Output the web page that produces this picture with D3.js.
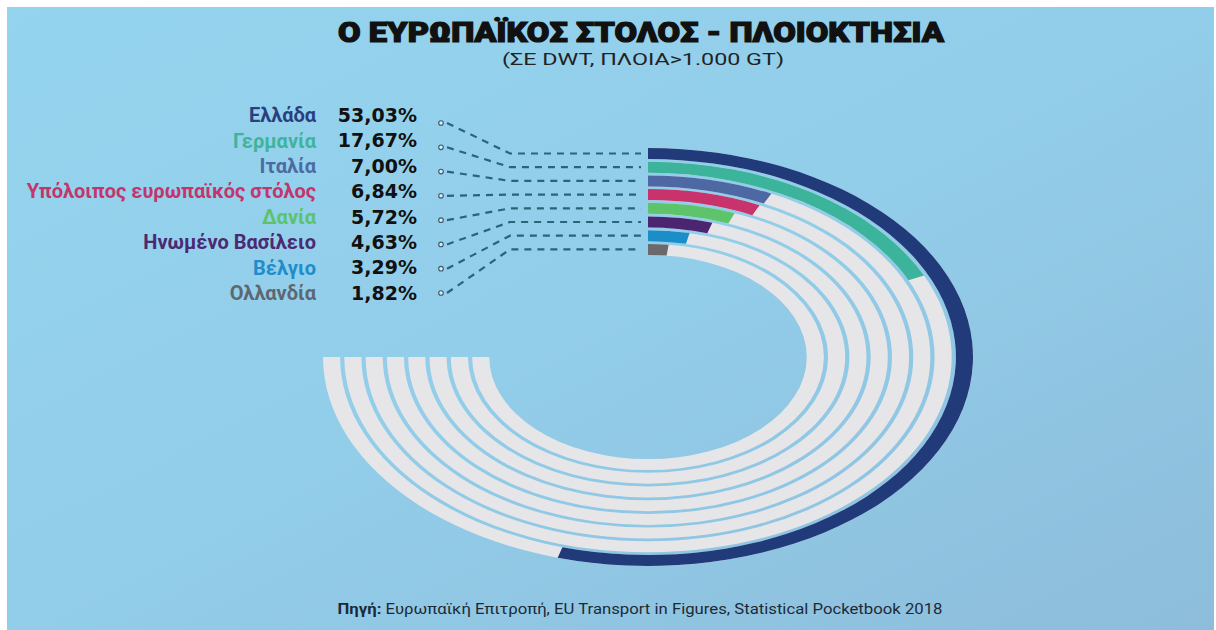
<!DOCTYPE html>
<html><head><meta charset="utf-8">
<script src="https://cdn.jsdelivr.net/npm/d3@7"></script>
<style>html,body{margin:0;padding:0;background:#fff;}svg{display:block;}</style>
</head><body>
<svg id="c" width="1216" height="630"></svg>
<script>
const categories = ["Ελλάδα","Γερμανία","Ιταλία","Υπόλοιπος ευρωπαϊκός στόλος","Δανία","Ηνωμένο Βασίλειο","Βέλγιο","Ολλανδία"];
const values = [53.03,17.67,7.00,6.84,5.72,4.63,3.29,1.82];
const valueLabels = ["53,03%","17,67%","7,00%","6,84%","5,72%","4,63%","3,29%","1,82%"];
const colors = ["#213a7a","#3cb39b","#4d68a3","#c8336b","#5ec46c","#4b2570","#1b8dc9","#6a6a6c"];
const labelColors = ["#2a3f7e","#3fb49c","#4d6aa2","#c4356b","#5cc36b","#4a2a72","#1f8ccb","#5d6770"];
const title = "Ο ΕΥΡΩΠΑΪΚΟΣ ΣΤΟΛΟΣ - ΠΛΟΙΟΚΤΗΣΙΑ";
const subtitle = "(ΣΕ DWT, ΠΛΟΙΑ>1.000 GT)";
const sourceBold = "Πηγή:";
const sourceText = " Ευρωπαϊκή Επιτροπή, EU Transport in Figures, Statistical Pocketbook 2018";

const svg = d3.select("#c");
const defs = svg.append("defs");
const g0 = defs.append("linearGradient").attr("id","bg").attr("x1","0").attr("y1","0").attr("x2","1").attr("y2","1");
g0.append("stop").attr("offset","0").attr("stop-color","#95d4ee");
g0.append("stop").attr("offset","0.5").attr("stop-color","#92cde9");
g0.append("stop").attr("offset","1").attr("stop-color","#8dbddb");
svg.append("rect").attr("x",7).attr("y",7).attr("width",1207).attr("height",623).attr("fill","url(#bg)");

// Title
svg.append("text").attr("x",641).attr("y",42).attr("text-anchor","middle")
  .attr("font-family","Roboto").attr("font-weight",900).attr("font-size",28)
  .attr("fill","#111").attr("stroke","#111").attr("stroke-width",1.2)
  .attr("textLength",606).attr("lengthAdjust","spacingAndGlyphs").text(title);
svg.append("text").attr("x",643).attr("y",65).attr("text-anchor","middle")
  .attr("font-family","Roboto").attr("font-weight",400).attr("font-size",16)
  .attr("fill","#222").attr("textLength",282).attr("lengthAdjust","spacingAndGlyphs").text(subtitle);

// Rings
const cx = 648, cy = 357, sx = 1.555;
const angle = d3.scaleLinear().domain([0,73]).range([0, 1.5*Math.PI]);
const radius = d3.scaleBand().domain(categories).range([209, 102.1]).paddingInner(0.197).paddingOuter(0);
const arc = d3.arc();
const rings = svg.append("g").attr("transform",`translate(${cx},${cy}) scale(${sx},1)`);
rings.selectAll("path.track").data(categories).join("path").attr("class","track")
  .attr("d", c => arc({innerRadius: radius(c), outerRadius: radius(c)+radius.bandwidth(), startAngle: 0, endAngle: angle(73)}))
  .attr("fill","#e6e6e8");
rings.selectAll("path.bar").data(categories).join("path").attr("class","bar")
  .attr("d", (c,i) => arc({innerRadius: radius(c), outerRadius: radius(c)+radius.bandwidth(), startAngle: 0, endAngle: angle(values[i])}))
  .attr("fill",(c,i)=>colors[i]);

// Labels
const rowY = d3.scalePoint().domain(categories).range([115, 293]);
const dotY = d3.scalePoint().domain(categories).range([123, 293]);
svg.selectAll("text.name").data(categories).join("text").attr("class","name")
  .attr("x",316).attr("y",c=>rowY(c)).attr("dy","0.36em").attr("text-anchor","end")
  .attr("font-family","Roboto").attr("font-weight",700).attr("font-size",20)
  .attr("fill",(c,i)=>labelColors[i]).text(c=>c);
svg.selectAll("text.val").data(categories).join("text").attr("class","val")
  .attr("x",417).attr("y",c=>rowY(c)).attr("dy","0.36em").attr("text-anchor","end")
  .attr("font-family","DejaVu Sans").attr("font-weight",700).attr("font-size",19)
  .attr("fill","#111").text((c,i)=>valueLabels[i]);

// Leaders
const line = d3.line();
svg.selectAll("path.lead").data(categories).join("path").attr("class","lead")
  .attr("d", c => { const y = cy - (radius(c)+radius.bandwidth()/2); return line([[447,dotY(c)],[510,y],[641,y]]); })
  .attr("fill","none").attr("stroke","#2b6479").attr("stroke-width",2.2).attr("stroke-dasharray","7,6");
svg.selectAll("circle.dot").data(categories).join("circle").attr("class","dot")
  .attr("cx",441).attr("cy",c=>dotY(c)).attr("r",2.3)
  .attr("fill","#d8eef6").attr("stroke","#3b5a6a").attr("stroke-width",1.1);

// Source
const src = svg.append("text").attr("x",640).attr("y",614).attr("text-anchor","middle")
  .attr("font-family","Roboto").attr("font-size",15).attr("fill","#1d2a36")
  .attr("textLength",605).attr("lengthAdjust","spacingAndGlyphs");
src.append("tspan").attr("font-weight",700).text(sourceBold);
src.append("tspan").text(sourceText);
</script>
</body></html>
